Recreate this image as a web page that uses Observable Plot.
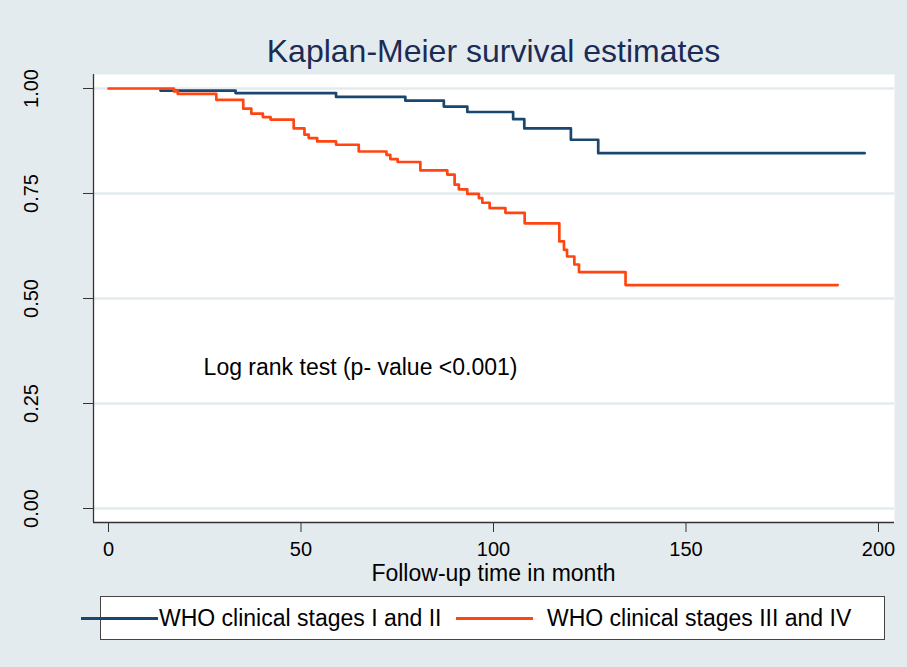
<!DOCTYPE html>
<html>
<head>
<meta charset="utf-8">
<script src="https://cdn.jsdelivr.net/npm/d3@7"></script>
<script src="https://cdn.jsdelivr.net/npm/@observablehq/plot@0.6"></script>
<style>
  html, body { margin: 0; padding: 0; background: #e4ebef; }
  #wrap { position: relative; width: 907px; height: 667px; overflow: hidden; background: #e4ebef;
          font-family: "Liberation Sans", Arial, sans-serif; color: #000; }
  #title { position: absolute; left: 0; width: 987px; top: 35px; text-align: center;
           font-size: 32px; line-height: 32px; color: #1c2b55; white-space: nowrap; }
  #chart { position: absolute; left: 0; top: 70px; }
  #xlabel { position: absolute; left: 93px; width: 801px; top: 564px; text-align: center;
            font-size: 23px; line-height: 18px; white-space: nowrap; }
  #legend { position: absolute; left: 100px; top: 596px; width: 785px; height: 44px;
            background: #fff; border: 1px solid #444; box-sizing: border-box; }
  .sw { position: absolute; height: 3px; }
  .lt { position: absolute; font-size: 23px; line-height: 23px; white-space: nowrap; }
</style>
</head>
<body>
<div id="wrap">
  <div id="title"></div>
  <div id="chart"></div>
  <div id="xlabel"></div>
  <div id="legend"></div>
</div>
<script>
// ---- data ----
const titleText = "Kaplan-Meier survival estimates";
const xLabelText = "Follow-up time in month";
const seriesNames = ["WHO clinical stages I and II", "WHO clinical stages III and IV"];
const seriesColors = ["#1a476f", "#ff4612"];

// Group 1: WHO clinical stages I and II (step-after KM curve)
const timeI = [13.5, 33.0, 59.1, 77.1, 87.1, 93.2, 105.1, 108.0, 120.1, 127.2, 196.4];
const survI = [0.995, 0.989, 0.980, 0.971, 0.957, 0.944, 0.927, 0.905, 0.878, 0.846, 0.846];

// Group 2: WHO clinical stages III and IV
const timeIII = [0, 17.0, 18.0, 28.0, 35.0, 37.1, 40.1, 42.1, 48.1, 50.9, 52.0, 54.2, 59.1, 65.0, 72.2, 73.2,
                 75.1, 81.0, 88.0, 89.9, 91.0, 93.2, 96.2, 97.1, 99.0, 103.1, 108.1, 117.1, 118.3, 119.1,
                 121.0, 122.2, 134.3, 189.4];
const survIII = [1.000, 0.993, 0.987, 0.973, 0.952, 0.940, 0.932, 0.926, 0.905, 0.890, 0.882, 0.874, 0.866, 0.850, 0.842, 0.832,
                 0.825, 0.805, 0.795, 0.771, 0.760, 0.749, 0.739, 0.728, 0.715, 0.704, 0.679, 0.636, 0.616, 0.600,
                 0.581, 0.563, 0.532, 0.532];

const xTicks = [0, 50, 100, 150, 200];
const yTicks = [0, 0.25, 0.5, 0.75, 1];
const annotationText = ["Log rank test (p- value <0.001)"];
const annotationX = [24.7];
const annotationY = [0.336];

// ---- build ----
const xDomain = [-3.896, 204.156];
const yDomain = [-0.0333, 1.0333];
const bg = "#e4ebef";

const dataI = timeI.map((t, i) => ({t, s: survI[i]}));
const dataIII = timeIII.map((t, i) => ({t, s: survIII[i]}));
const notes = annotationText.map((label, i) => ({label, t: annotationX[i], s: annotationY[i]}));

const chart = Plot.plot({
  width: 907,
  height: 520,
  marginLeft: 93,
  marginRight: 13,
  marginTop: 4,
  marginBottom: 68,
  x: {domain: xDomain, label: null},
  y: {domain: yDomain, label: null},
  style: {background: "transparent", fontFamily: "'Liberation Sans', Arial, sans-serif", color: "#000", overflow: "visible"},
  marks: [
    Plot.frame({fill: "#fff", stroke: "none"}),
    Plot.gridY(yTicks, {stroke: bg, strokeOpacity: 1, strokeWidth: 2.5}),
    Plot.line(dataI, {x: "t", y: "s", curve: "step-after", stroke: seriesColors[0], strokeWidth: 2.7}),
    Plot.line(dataIII, {x: "t", y: "s", curve: "step-after", stroke: seriesColors[1], strokeWidth: 2.7}),
    Plot.text(notes, {x: "t", y: "s", text: "label", textAnchor: "start", fontSize: 23, fill: "#000"}),
    Plot.ruleX([xDomain[0]], {stroke: "#333", strokeWidth: 1.3}),
    Plot.ruleY([yDomain[0]], {stroke: "#333", strokeWidth: 1.3}),
    Plot.axisY({ticks: yTicks, tickSize: 10, tickRotate: -90, tickPadding: 46, tickFormat: d3.format(".2f"), fontSize: 20, stroke: "#333"}),
    Plot.axisX({ticks: xTicks, tickSize: 10, tickPadding: 9, tickFormat: d3.format("d"), fontSize: 20, stroke: "#333", label: null})
  ]
});
document.getElementById("chart").appendChild(chart);
document.getElementById("title").textContent = titleText;
document.getElementById("xlabel").textContent = xLabelText;

// legend
const legend = document.getElementById("legend");
const swLeft = [-20, 355];
const txtLeft = [58, 446];
seriesNames.forEach((name, i) => {
  const sw = document.createElement("div");
  sw.className = "sw";
  sw.style.left = swLeft[i] + "px";
  sw.style.width = "77px";
  sw.style.top = "20px";
  sw.style.background = seriesColors[i];
  legend.appendChild(sw);
  const tx = document.createElement("div");
  tx.className = "lt";
  tx.style.left = txtLeft[i] + "px";
  tx.style.top = "10px";
  tx.textContent = name;
  legend.appendChild(tx);
});
</script>
</body>
</html>
